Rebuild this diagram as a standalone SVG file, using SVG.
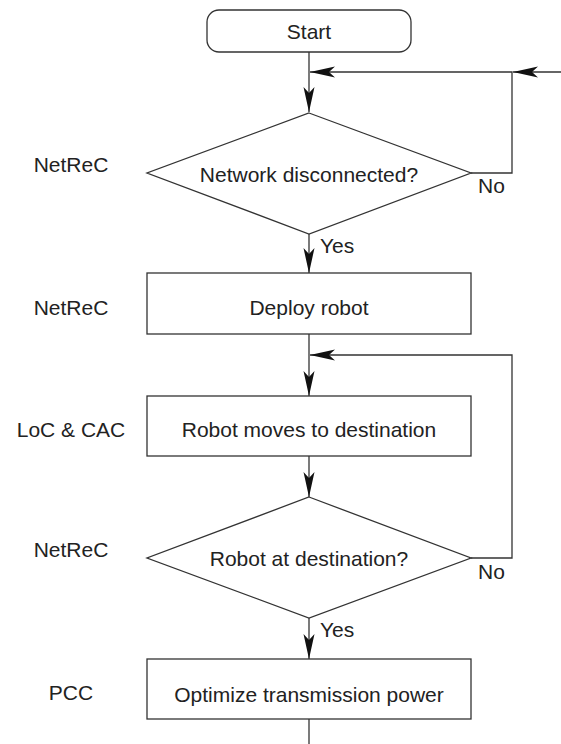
<svg xmlns="http://www.w3.org/2000/svg" width="561" height="744" viewBox="0 0 561 744">
<defs>
<marker id="ah" markerUnits="userSpaceOnUse" markerWidth="30" markerHeight="16" viewBox="-26 -8 28 16" refX="0" refY="0" orient="auto">
<path d="M0,0 L-25,-5.5 L-19,0 L-25,5.5 Z" fill="#111"/>
</marker>
<style>
.s{fill:#fff;stroke:#333;stroke-width:1.3}
.c{fill:none;stroke:#333;stroke-width:1.3}
.t{font-family:"Liberation Sans",Arial,sans-serif;font-size:21px;fill:#222}
.m{text-anchor:middle}
</style>
</defs>
<rect width="561" height="744" fill="#fff"/>
<g id="connectors">
<path class="c" d="M309,52 V112" marker-end="url(#ah)"/>
<path class="c" d="M471,173 H512 V72 H310" marker-end="url(#ah)"/>
<path class="c" d="M561,72 H513" marker-end="url(#ah)"/>
<path class="c" d="M309,234 V273" marker-end="url(#ah)"/>
<path class="c" d="M309,334 V396" marker-end="url(#ah)"/>
<path class="c" d="M471,558 H512 V355 H310" marker-end="url(#ah)"/>
<path class="c" d="M309,456 V497" marker-end="url(#ah)"/>
<path class="c" d="M309,618 V659" marker-end="url(#ah)"/>
<path class="c" d="M309,719 V744"/>
<text class="t" x="478" y="193">No</text>
<text class="t" x="320" y="253">Yes</text>
<text class="t" x="478" y="579">No</text>
<text class="t" x="320" y="637">Yes</text>
</g>
<g id="start">
<rect class="s" x="207" y="10" width="204" height="42" rx="12"/>
<text class="t m" x="309" y="39">Start</text>
</g>
<g id="netdisc">
<polygon class="s" points="309,113 471,173 309,234 147,173"/>
<text class="t m" x="309" y="182">Network disconnected?</text>
</g>
<g id="deploy">
<rect class="s" x="147" y="273" width="324" height="61"/>
<text class="t m" x="309" y="315">Deploy robot</text>
</g>
<g id="moves">
<rect class="s" x="147" y="396" width="324" height="60"/>
<text class="t m" x="309" y="437">Robot moves to destination</text>
</g>
<g id="atdest">
<polygon class="s" points="309,497 471,558 309,618 147,558"/>
<text class="t m" x="309" y="566">Robot at destination?</text>
</g>
<g id="optimize">
<rect class="s" x="147" y="659" width="324" height="60"/>
<text class="t m" x="309" y="702">Optimize transmission power</text>
</g>
<g id="labels">
<text class="t m" x="71" y="172">NetReC</text>
<text class="t m" x="71" y="315">NetReC</text>
<text class="t m" x="71" y="437">LoC &amp; CAC</text>
<text class="t m" x="71" y="557">NetReC</text>
<text class="t m" x="71" y="700">PCC</text>
</g>
</svg>
